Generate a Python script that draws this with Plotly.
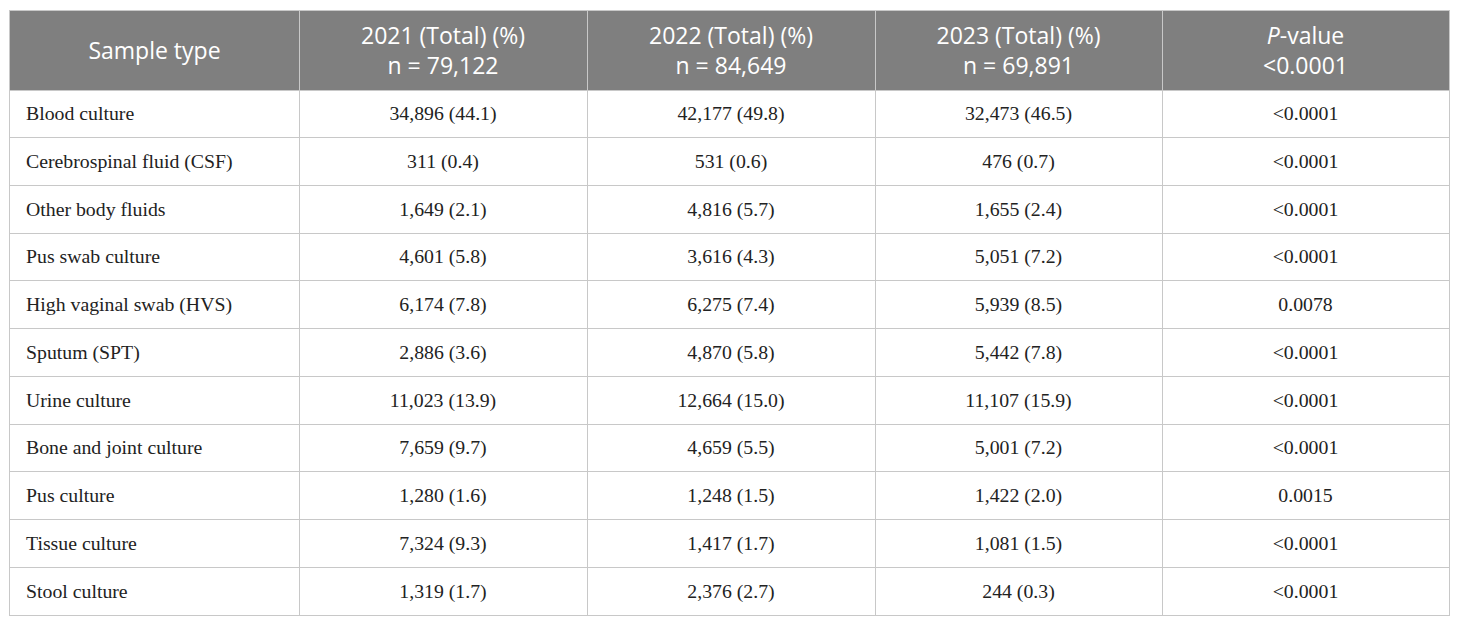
import plotly.graph_objects as go

sample_types = [
    "Blood culture", "Cerebrospinal fluid (CSF)", "Other body fluids",
    "Pus swab culture", "High vaginal swab (HVS)", "Sputum (SPT)",
    "Urine culture", "Bone and joint culture", "Pus culture",
    "Tissue culture", "Stool culture",
]
y2021 = ["34,896 (44.1)", "311 (0.4)", "1,649 (2.1)", "4,601 (5.8)", "6,174 (7.8)",
         "2,886 (3.6)", "11,023 (13.9)", "7,659 (9.7)", "1,280 (1.6)", "7,324 (9.3)",
         "1,319 (1.7)"]
y2022 = ["42,177 (49.8)", "531 (0.6)", "4,816 (5.7)", "3,616 (4.3)", "6,275 (7.4)",
         "4,870 (5.8)", "12,664 (15.0)", "4,659 (5.5)", "1,248 (1.5)", "1,417 (1.7)",
         "2,376 (2.7)"]
y2023 = ["32,473 (46.5)", "476 (0.7)", "1,655 (2.4)", "5,051 (7.2)", "5,939 (8.5)",
         "5,442 (7.8)", "11,107 (15.9)", "5,001 (7.2)", "1,422 (2.0)", "1,081 (1.5)",
         "244 (0.3)"]
p_values = ["&lt;0.0001", "&lt;0.0001", "&lt;0.0001", "&lt;0.0001", "0.0078",
            "&lt;0.0001", "&lt;0.0001", "&lt;0.0001", "0.0015", "&lt;0.0001",
            "&lt;0.0001"]
headers = ["Sample type",
           "2021 (Total) (%)<br>n = 79,122",
           "2022 (Total) (%)<br>n = 84,649",
           "2023 (Total) (%)<br>n = 69,891",
           "<i>P</i>-value<br>&lt;0.0001"]

# grid geometry (pixels across, row units down)
col_widths = [289, 288, 288, 287, 287]
row_px = 47.73
header_rows = 79 / row_px
line_col = "#c8c8c8"

edges = [0]
for w in col_widths:
    edges.append(edges[-1] + w)
centers = [(edges[i] + edges[i + 1]) / 2 for i in range(len(col_widths))]
rows = list(range(len(sample_types)))
row_mid = [r + 0.5 + 1.5 / row_px for r in rows]

head_font = dict(family="Open Sans", size=23, color="white")
body_font = dict(family="Liberation Serif", size=19.8, color="#222222")

fig = go.Figure()

# header text
fig.add_trace(go.Scatter(
    x=centers, y=[-header_rows + 42.5 / row_px] * len(headers), text=headers,
    mode="text", textposition="middle center", textfont=head_font,
    hoverinfo="skip", showlegend=False,
))

# first column, left aligned
fig.add_trace(go.Scatter(
    x=[edges[0] + 16] * len(rows), y=row_mid, text=sample_types,
    mode="text", textposition="middle right", textfont=body_font,
    hoverinfo="skip", showlegend=False,
))

for i, col in enumerate([y2021, y2022, y2023, p_values]):
    fig.add_trace(go.Scatter(
        x=[centers[i + 1]] * len(rows), y=row_mid, text=col,
        mode="text", textposition="middle center", textfont=body_font,
        hoverinfo="skip", showlegend=False,
    ))

fig.add_shape(type="rect", xref="x", yref="y",
              x0=edges[0], x1=edges[-1], y0=-header_rows, y1=0,
              fillcolor="#7f7f7f", line_width=0, layer="below")

fig.update_xaxes(range=[edges[0], edges[-1]], tickvals=edges, showticklabels=False,
                 ticks="", showgrid=True, gridcolor=line_col, gridwidth=1,
                 zeroline=False, showline=True, linecolor=line_col, mirror=True)
fig.update_yaxes(range=[len(rows), -header_rows], tickvals=list(range(len(rows) + 1)),
                 showticklabels=False, ticks="", showgrid=True, gridcolor=line_col,
                 gridwidth=1, zeroline=False, showline=True, linecolor=line_col,
                 mirror=True)

fig.update_layout(
    width=1460, height=627,
    margin=dict(l=2, r=19, t=3, b=20),
    paper_bgcolor="white", plot_bgcolor="white",
)

fig.write_html("out.html")
